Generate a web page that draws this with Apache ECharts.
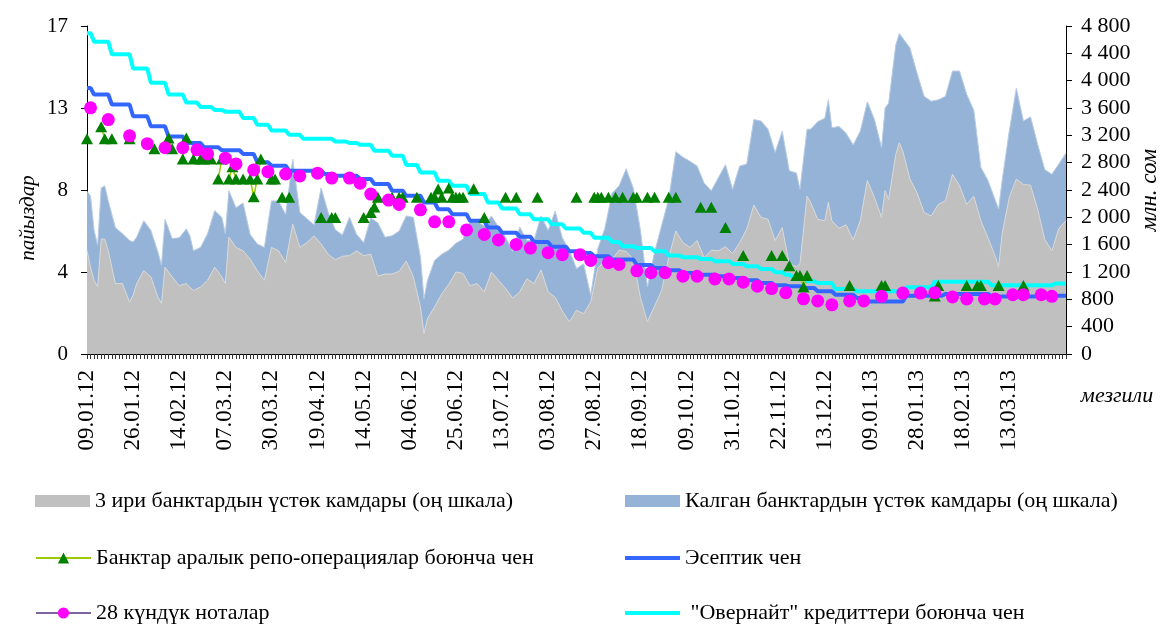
<!DOCTYPE html>
<html>
<head>
<meta charset="utf-8">
<script src="https://cdn.jsdelivr.net/npm/echarts@6/dist/echarts.min.js"></script>
<style>
  html, body { margin: 0; padding: 0; background: #fff; }
  #chart { width: 1160px; height: 625px; }
</style>
</head>
<body>
<div id="chart"></div>
<script>
// business days are numbered from 09.01.12 (day 0)
const dayCount = 277
const labelStep = 13
const dateLabels = ['09.01.12', '26.01.12', '14.02.12', '07.03.12', '30.03.12', '19.04.12', '14.05.12',
  '04.06.12', '25.06.12', '13.07.12', '03.08.12', '27.08.12', '18.09.12', '09.10.12', '31.10.12',
  '22.11.12', '13.12.12', '09.01.13', '28.01.13', '18.02.13', '13.03.13']
const leftTickLabels = ['0', '4', '8', '13', '17']

// excess reserves, mln som (right scale)
const areaDays = [0, 1, 2, 3, 4, 5, 6, 8, 10, 12, 13, 14, 16, 18, 20, 21, 22, 24, 26, 28, 29, 30, 32, 34, 36, 38, 39, 40,
  42, 44, 46, 48, 50, 52, 54, 56, 58, 60, 62, 64, 66, 68, 70, 72, 74, 76, 78,
  80, 82, 84, 86, 88, 90, 92, 94, 95, 96, 98, 100, 102, 104, 106, 108, 110, 112, 114, 116, 118,
  120, 122, 124, 126, 128, 130, 132, 134, 136, 138, 140, 142, 144, 146, 148, 150, 152, 154, 156, 158,
  160, 162, 164, 166, 168, 170, 172, 174, 176, 178, 180, 182, 184, 186, 188, 190, 192, 194, 196,
  198, 200, 201, 203, 204, 206, 208, 209, 210, 212, 214, 216, 218, 220, 222, 224, 225, 226, 228, 229, 230, 232, 234, 236,
  238, 240, 242, 244, 246, 248, 250, 252, 254, 256, 257, 258, 260, 262, 264, 266, 268, 270, 272, 274, 276]
const bigThree = [1510, 1270, 1080, 980, 1680, 1680, 1510, 1030, 1030, 760, 860, 1030, 1220, 1130, 830, 740, 1270, 1130, 1000, 1030, 980, 930, 980, 1080, 1270, 1130, 1030, 1710,
  1560, 1510, 1390, 1220, 1080, 1560, 1510, 1340, 1900, 1560, 1630, 1730, 1610, 1460, 1380, 1430, 1440, 1510, 1440,
  1460, 1140, 1170, 1170, 1210, 1360, 1130, 690, 300, 520, 690, 880, 1020, 1200, 1180, 1000, 1030, 910, 1200, 1080, 960,
  820, 910, 1100, 1030, 1230, 910, 830, 630, 470, 640, 590, 760, 1250, 1370, 1380, 1520, 1500, 1390, 830, 470,
  700, 930, 1410, 1800, 1630, 1560, 1660, 1410, 1520, 1510, 1570, 1470, 1630, 1830, 2180, 2000, 1970, 1660, 1850,
  1320, 1280, 1320, 2310, 2220, 1970, 1950, 2220, 1950, 1840, 1890, 1670, 1950, 2540, 2290, 2000, 2390, 2260, 2920, 3090, 2970, 2560, 2360, 2070,
  2020, 2190, 2240, 2630, 2460, 2190, 2310, 1950, 1700, 1440, 1270, 1760, 2290, 2560, 2480, 2470, 2120, 1680, 1510, 1840, 1950]
const otherBanks = [870, 1040, 730, 610, 750, 780, 730, 820, 730, 900, 780, 680, 730, 680, 660, 560, 700, 560, 700, 800, 750, 580, 580, 680, 830, 870, 730, 680,
  580, 700, 360, 390, 480, 680, 730, 700, 950, 510, 350, 160, 820, 610, 440, 310, 560, 240, 190,
  530, 780, 540, 560, 590, 660, 870, 730, 510, 560, 680, 580, 500, 420, 500, 950, 920, 960, 820, 780, 750,
  680, 950, 560, 630, 790, 900, 1260, 1070, 1040, 610, 730, 100, 290, 470, 970, 940, 1210, 1040, 990, 510,
  790, 950, 860, 1160, 1250, 1260, 1090, 1090, 870, 1070, 1200, 940, 1120, 950, 1250, 1410, 1320, 1290, 1410,
  1360, 1370, 1090, 980, 1070, 1430, 1500, 1500, 1360, 1490, 1340, 1390, 1310, 1150, 1140, 1020, 1210, 1410, 1600, 1600, 1650, 1920, 1750, 1700,
  1680, 1530, 1530, 1510, 1680, 1610, 1260, 780, 840, 820, 850, 780, 970, 1330, 930, 1000, 950, 1020, 1120, 940, 990]

// rates, % (left scale): day a new level starts, and the level
const discountStart = [0, 2, 7, 13, 18, 23, 28, 33, 38, 44, 48, 52, 57, 67, 70, 77, 81, 86, 90, 95, 99, 103, 108, 113, 117,
  122, 126, 131, 136, 140, 143, 148, 155, 160, 164, 168, 173, 178, 182, 186, 190, 194, 198, 202, 206, 211, 217, 220, 231, 242, 255, 268]
const discountRate = [13.79, 13.45, 12.93, 12.32, 11.80, 11.27, 10.94, 10.72, 10.56, 10.37, 9.94, 9.76, 9.50, 9.33, 9.24, 9.07,
  8.81, 8.46, 8.20, 7.85, 7.50, 7.24, 6.90, 6.55, 6.29, 6.08, 5.80, 5.56, 5.33, 5.24, 5.07, 4.90, 4.61,
  4.46, 4.34, 4.20, 4.11, 4.03, 3.94, 3.82, 3.68, 3.56, 3.51, 3.42, 3.25, 3.07, 2.90, 2.72, 3.02, 3.11, 2.98, 3.02]
const overnightStart = [0, 2, 7, 13, 18, 23, 28, 32, 36, 39, 44, 48, 52, 57, 61, 70, 74, 77, 81, 86, 90, 94, 99, 103, 108, 113, 117,
  122, 126, 131, 135, 140, 143, 148, 151, 155, 160, 164, 168, 173, 177, 182, 186, 190, 194, 197, 199, 203, 206, 211, 217, 231, 239, 255, 273]
const overnightRate = [16.63, 16.19, 15.53, 14.80, 14.06, 13.45, 13.03, 12.80, 12.65, 12.56, 12.23, 11.88, 11.59, 11.36, 11.15, 11.01, 10.94, 10.84,
  10.54, 10.28, 9.80, 9.41, 8.98, 8.72, 8.29, 7.85, 7.54, 7.24, 6.98, 6.72, 6.50, 6.29, 6.03, 5.80, 5.59, 5.50,
  5.33, 5.10, 5.02, 4.93, 4.81, 4.67, 4.55, 4.41, 4.24, 4.11, 3.98, 3.77, 3.68, 3.37, 3.25, 3.46, 3.75, 3.56, 3.66]

const repoDays = [0, 4, 5, 7, 12, 19, 23, 24, 27, 28, 30, 32, 33, 35, 37, 38, 40, 41, 42, 44, 46, 47, 48, 49, 52, 53, 55, 57, 66, 69,
  70, 78, 80, 81, 82, 86, 88, 89, 93, 97, 98, 99, 100, 102, 103, 104, 105, 106, 109, 112, 118, 121, 127, 138, 143, 144, 145, 147, 149, 151,
  154, 155, 158, 160, 164, 166, 173, 176, 180, 185, 193, 196, 198, 200, 201, 202, 203, 215, 224, 225, 239, 240, 248, 251, 252, 257, 264]
const repoRate = [11.16, 11.78, 11.16, 11.16, 11.16, 10.64, 11.19, 10.64, 10.11, 11.19, 10.11, 10.11, 10.11, 10.11, 9.07, 10.11, 9.07, 9.7, 9.07, 9.07,
  9.07, 8.15, 9.07, 10.11, 9.07, 9.07, 8.13, 8.13, 7.07, 7.07, 7.07, 7.07, 7.33, 7.62, 8.12, 8.12, 8.12, 8.12, 8.12, 8.12,
  8.12, 8.55, 8.12, 8.6, 8.12, 8.12, 8.12, 8.12, 8.57, 7.07, 8.12, 8.12, 8.12, 8.12, 8.12, 8.12, 8.12, 8.12, 8.12, 8.12,
  8.12, 8.12, 8.12, 8.12, 8.12, 8.12, 7.6, 7.6, 6.55, 5.1, 5.1, 5.1, 4.58, 4.07, 4.07, 3.47, 4.07, 3.55, 3.55, 3.55,
  3.0, 3.55, 3.55, 3.55, 3.55, 3.55, 3.55]

const noteDays = [1, 6, 12, 17, 22, 27, 31, 34, 39, 42, 47, 51, 56, 60, 65, 69, 74, 77, 80, 85, 88, 94, 98, 102, 107, 112, 116, 121, 125, 130,
  134, 139, 142, 147, 150, 155, 159, 163, 168, 172, 177, 181, 185, 189, 193, 197, 202, 206, 210, 215, 219, 224, 230, 235, 239, 244, 248, 253, 256, 261,
  264, 269, 272]
const noteRate = [12.76, 12.15, 11.31, 10.9, 10.69, 10.69, 10.58, 10.37, 10.15, 9.85, 9.54, 9.45, 9.33, 9.23, 9.37, 9.12, 9.12, 8.85, 8.29, 7.98,
  7.75, 7.47, 6.85, 6.85, 6.43, 6.2, 5.91, 5.68, 5.49, 5.25, 5.15, 5.15, 4.85, 4.73, 4.64, 4.31, 4.21, 4.21, 4.03, 4.03,
  3.89, 3.89, 3.72, 3.51, 3.39, 3.18, 2.86, 2.75, 2.55, 2.75, 2.75, 2.99, 3.16, 3.16, 3.18, 2.96, 2.85, 2.85, 2.85, 3.07,
  3.07, 3.07, 2.99]

const bigName = '3 ири банктардын үстөк камдары (оң шкала)'
const otherName = 'Калган банктардын үстөк камдары (оң шкала)'
const repoName = 'Банктар аралык репо-операциялар боюнча чен'
const discountName = 'Эсептик чен'
const notesName = '28 күндүк ноталар'
const overnightName = ' "Овернайт" кредиттери боюнча чен'

const serif = "'Liberation Serif', 'DejaVu Serif', serif"

// levels held from one start day to the day before the next start
function stepRuns(starts, vals, lastDay) {
  let out = []
  starts.forEach((s, i) => {
    let e = i < starts.length - 1 ? starts[i + 1] - 1 : lastDay
    out.push([s, vals[i]])
    if (e > s) out.push([e, vals[i]])
  })
  return out
}

// only neighbouring days are joined by the line
function withGaps(days, vals) {
  let out = []
  days.forEach((d, i) => {
    if (i > 0 && d - days[i - 1] > 1) out.push([d - 0.5, '-'])
    out.push([d, vals[i]])
  })
  return out
}

function spaced(v) {
  return String(v).replace(/\B(?=(\d{3})+(?!\d))/g, ' ')
}

// one legend per entry so the 2 x 3 layout is fixed
function legendAt(left, top, item, iconHeight) {
  return {
    left: left,
    top: top,
    padding: 0,
    itemWidth: 55,
    itemHeight: iconHeight,
    selectedMode: false,
    textStyle: { fontFamily: serif, fontSize: 22, color: '#000' },
    data: [item],
  }
}

const chart = echarts.init(document.getElementById('chart'))

chart.setOption({
  animation: false,
  backgroundColor: '#fff',
  grid: { left: 87, right: 94, top: 26, bottom: 271 },
  legend: [
    legendAt(35, 490, { name: bigName, icon: 'rect' }, 12),
    legendAt(35, 547, repoName, 14),
    legendAt(35, 602, notesName, 14),
    legendAt(625, 490, { name: otherName, icon: 'rect' }, 12),
    legendAt(625, 547, { name: discountName, icon: 'rect' }, 4),
    legendAt(625, 602, { name: overnightName, icon: 'rect' }, 4),
  ],
  xAxis: {
    type: 'value',
    min: 0,
    max: dayCount - 1,
    interval: 1,
    splitLine: { show: false },
    axisLine: { lineStyle: { color: '#000', width: 1 } },
    axisTick: { length: 5, lineStyle: { color: '#333' } },
    axisLabel: {
      rotate: 90,
      margin: 16,
      fontFamily: serif,
      fontSize: 23,
      color: '#000',
      formatter: (v) => (v % labelStep === 0 && dateLabels[v / labelStep]) || '',
    },
  },
  yAxis: [
    {
      type: 'value',
      min: 0,
      max: 17,
      interval: 4.25,
      splitLine: { show: false },
      axisLine: { show: true, lineStyle: { color: '#000' } },
      axisTick: { show: true, length: 6, lineStyle: { color: '#000' } },
      axisLabel: {
        fontFamily: serif, fontSize: 21, color: '#000', margin: 19,
        formatter: (v) => leftTickLabels[Math.round(v / 4.25)],
      },
    },
    {
      type: 'value',
      min: 0,
      max: 4800,
      interval: 400,
      splitLine: { show: false },
      axisLine: { show: true, lineStyle: { color: '#000' } },
      axisTick: { show: true, length: 6, lineStyle: { color: '#000' } },
      axisLabel: { fontFamily: serif, fontSize: 22, color: '#000', margin: 15, formatter: spaced },
    },
  ],
  graphic: [
    {
      type: 'text', x: 28, y: 218, rotation: Math.PI / 2,
      style: { text: 'пайыздар', font: 'italic 21px ' + serif, fill: '#000', textAlign: 'center', textVerticalAlign: 'middle' },
    },
    {
      type: 'text', x: 1150, y: 190, rotation: Math.PI / 2,
      style: { text: 'млн. сом', font: 'italic 23px ' + serif, fill: '#000', textAlign: 'center', textVerticalAlign: 'middle' },
    },
    {
      type: 'text', x: 1117, y: 396,
      style: { text: 'мезгили', font: 'italic 22px ' + serif, fill: '#000', textAlign: 'center', textVerticalAlign: 'middle' },
    },
  ],
  series: [
    {
      // blue band sits on top of the three largest banks
      name: otherName,
      type: 'line',
      yAxisIndex: 1,
      symbol: 'none',
      silent: true,
      data: areaDays.map((d, i) => [d, bigThree[i] + otherBanks[i]]),
      itemStyle: { color: '#95b3d7' },
      lineStyle: { color: '#b8cce4', width: 1 },
      areaStyle: { color: '#95b3d7', opacity: 1 },
    },
    {
      name: bigName,
      type: 'line',
      yAxisIndex: 1,
      symbol: 'none',
      silent: true,
      data: areaDays.map((d, i) => [d, bigThree[i]]),
      itemStyle: { color: '#c0c0c0' },
      lineStyle: { color: '#dadada', width: 1 },
      areaStyle: { color: '#c0c0c0', opacity: 1 },
    },
    {
      name: discountName,
      type: 'line',
      symbol: 'none',
      data: stepRuns(discountStart, discountRate, dayCount - 1),
      itemStyle: { color: '#3366ff' },
      lineStyle: { color: '#3366ff', width: 4 },
    },
    {
      name: overnightName,
      type: 'line',
      symbol: 'none',
      data: stepRuns(overnightStart, overnightRate, dayCount - 1),
      itemStyle: { color: '#00ffff' },
      lineStyle: { color: '#00ffff', width: 4 },
    },
    {
      name: repoName,
      type: 'line',
      symbol: 'triangle',
      symbolSize: [12, 11],
      data: withGaps(repoDays, repoRate),
      itemStyle: { color: '#008000' },
      lineStyle: { color: '#99cc00', width: 1.5 },
    },
    {
      name: notesName,
      type: 'line',
      symbol: 'circle',
      symbolSize: 13,
      data: withGaps(noteDays, noteRate),
      itemStyle: { color: '#ff00ff' },
      lineStyle: { color: '#8064a2', width: 1.5 },
    },
  ],
})

window.addEventListener('resize', chart.resize)
</script>
</body>
</html>
